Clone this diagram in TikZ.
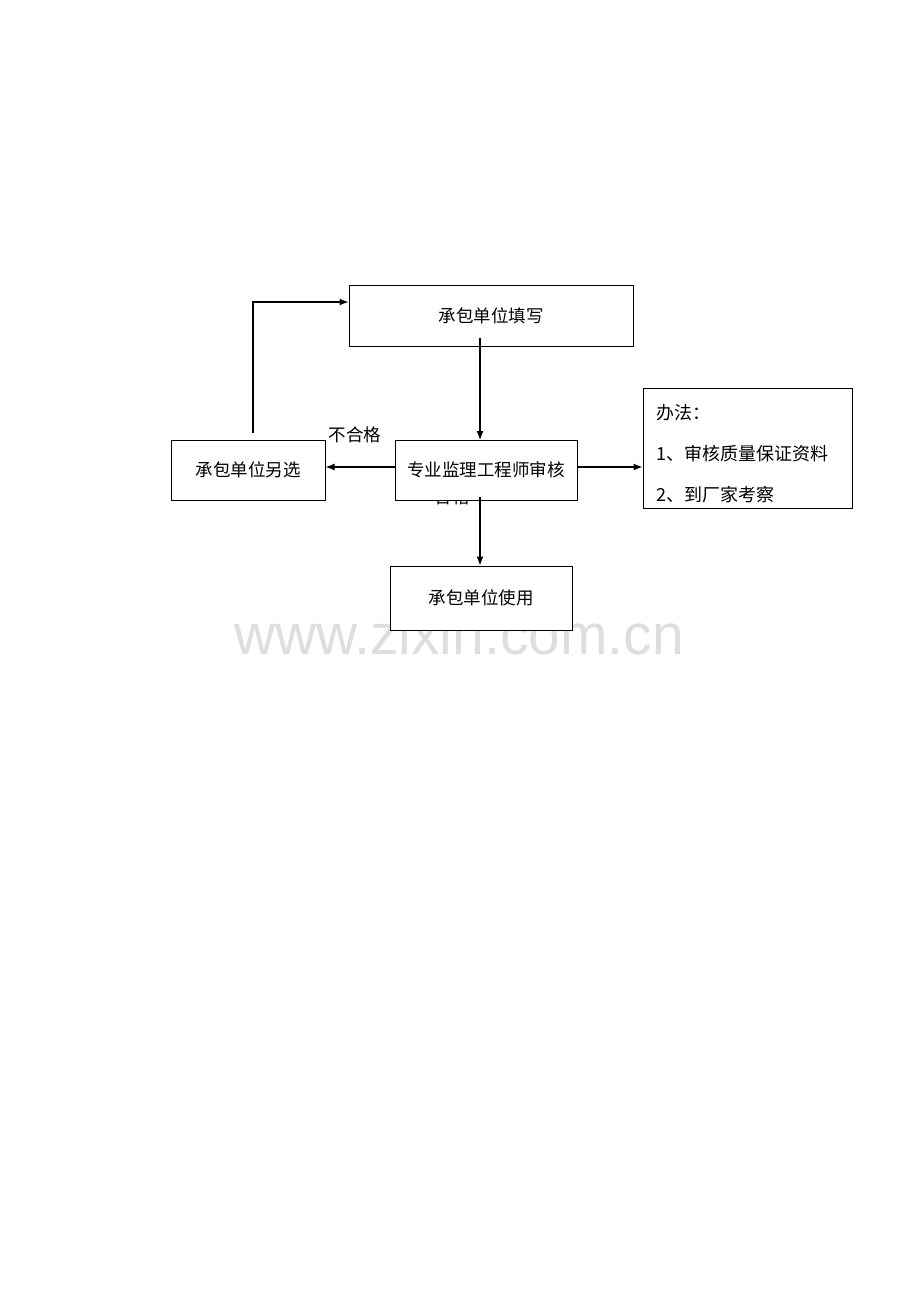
\documentclass[tikz,border=0pt]{standalone}
\usepackage{fontspec}
\newfontfamily\cjk{Noto Sans CJK SC}
\newfontfamily\wmfont{Liberation Sans}
\usetikzlibrary{arrows.meta}

\begin{document}
\begin{tikzpicture}[x=1pt,y=-1pt,line width=1.2pt,>={Latex[length=9pt,width=7pt]},
	every node/.style={font=\cjk\fontsize{17.5}{20}\selectfont},
	box/.style={draw,fill=white,inner sep=0pt,line width=1pt},
	lbl/.style={inner sep=0pt}]

	\useasboundingbox (0,0) rectangle (920,1302);

	% watermark
	\node[font=\wmfont\fontsize{57}{60}\selectfont,text=black!13] (wm) at (459,634) {www.zixin.com.cn};

	% labels that sit under the boxes
	\node[lbl] (ok)  at (452,497) {合格};
	\node[lbl] (nok) at (355,435) {不合格};

	\node[box,minimum width=284pt,minimum height=61pt] (fill)   at (491,315.5) {承包单位填写};
	\node[box,minimum width=182pt,minimum height=60pt] (review) at (486,470)   {专业监理工程师审核};
	\node[box,minimum width=154pt,minimum height=60pt] (other)  at (248,470)   {承包单位另选};
	\node[box,minimum width=182pt,minimum height=64pt] (use)    at (481,598)   {承包单位使用};
	\node[box,minimum width=209pt,minimum height=120pt] (method) at (747.5,448) {};
	\node[lbl,anchor=west,align=left,font=\cjk\fontsize{18}{41}\selectfont] (methodtxt) at (656,454)
	      {办法：\\1、审核质量保证资料\\2、到厂家考察};

	\coordinate (up)  at (253,433);
	\coordinate (top) at (253,302);

	\draw[->] (480,338) -- (480,440);
	\draw[->] (review.west|-0,467) -- (other.east|-0,467);
	\draw[->] (review.east|-0,467) -- (method.west|-0,467);
	\draw[->] (480,497) -- (use.north-|480,0);
	\draw[->] (up) -- (top) -- (fill.west|-top);

\end{tikzpicture}
\end{document}
